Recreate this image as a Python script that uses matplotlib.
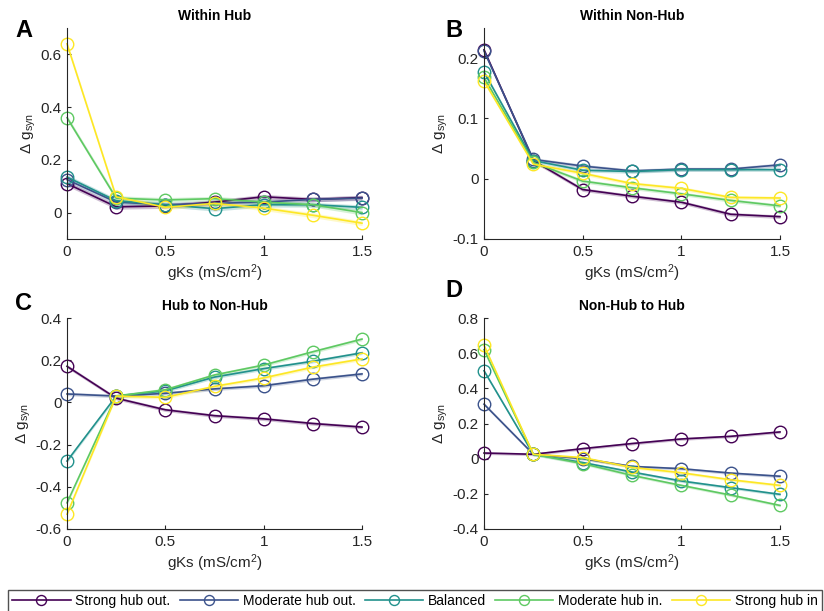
import numpy as np
import matplotlib
matplotlib.use("Agg")
import matplotlib.pyplot as plt

plt.rcParams['font.family'] = ['Liberation Sans', 'DejaVu Sans']
plt.rcParams['mathtext.default'] = 'regular'

gks = [0, 0.25, 0.5, 0.75, 1.0, 1.25, 1.5]
groups = ['Strong hub out.', 'Moderate hub out.', 'Balanced', 'Moderate hub in.', 'Strong hub in']
colors = ['#440154', '#3b528b', '#21918c', '#5ec962', '#fde725']

titles = ['Within Hub', 'Within Non-Hub', 'Hub to Non-Hub', 'Non-Hub to Hub']
letters = ['A', 'B', 'C', 'D']

# values per panel, one row per group
within_hub = [
    [0.110, 0.022, 0.025, 0.040, 0.060, 0.050, 0.057],
    [0.125, 0.040, 0.030, 0.035, 0.040, 0.050, 0.055],
    [0.135, 0.045, 0.030, 0.015, 0.030, 0.030, 0.020],
    [0.360, 0.055, 0.048, 0.053, 0.040, 0.030, 0.000],
    [0.640, 0.060, 0.020, 0.035, 0.017, -0.010, -0.040],
]
within_nonhub = [
    [0.214, 0.030, -0.018, -0.029, -0.039, -0.059, -0.063],
    [0.212, 0.032, 0.021, 0.013, 0.016, 0.016, 0.023],
    [0.177, 0.030, 0.014, 0.012, 0.015, 0.015, 0.015],
    [0.168, 0.027, -0.004, -0.015, -0.025, -0.036, -0.045],
    [0.162, 0.024, 0.009, -0.008, -0.016, -0.031, -0.032],
]
hub_to_nonhub = [
    [0.171, 0.020, -0.035, -0.063, -0.078, -0.100, -0.117],
    [0.040, 0.030, 0.043, 0.064, 0.079, 0.110, 0.135],
    [-0.278, 0.030, 0.055, 0.120, 0.160, 0.195, 0.235],
    [-0.476, 0.030, 0.060, 0.130, 0.177, 0.240, 0.300],
    [-0.530, 0.030, 0.024, 0.076, 0.116, 0.167, 0.206],
]
nonhub_to_hub = [
    [0.032, 0.025, 0.057, 0.086, 0.112, 0.127, 0.152],
    [0.310, 0.025, 0.000, -0.044, -0.057, -0.082, -0.100],
    [0.500, 0.025, -0.022, -0.076, -0.127, -0.165, -0.203],
    [0.620, 0.025, -0.028, -0.095, -0.152, -0.207, -0.266],
    [0.645, 0.025, 0.006, -0.050, -0.080, -0.120, -0.152],
]
panels = [within_hub, within_nonhub, hub_to_nonhub, nonhub_to_hub]
band = [0.009, 0.003, 0.008, 0.008]  # rough half-width of shaded error band

ylims = [(-0.1, 0.7), (-0.1, 0.25), (-0.6, 0.4), (-0.4, 0.8)]
yticks = [[0, 0.2, 0.4, 0.6], [-0.1, 0, 0.1, 0.2],
          [-0.6, -0.4, -0.2, 0, 0.2, 0.4], [-0.4, -0.2, 0, 0.2, 0.4, 0.6, 0.8]]

fig = plt.figure(figsize=(8.24, 6.11), dpi=100)
W, H = 824, 611
boxes = [(67, 28, 362, 239), (484, 28, 780, 239), (67, 318, 362, 529), (484, 318, 780, 529)]
letter_pos = [(15, 37), (445, 37), (15, 310), (445, 297)]
axc = '#262626'

for i, data in enumerate(panels):
    l, t, r, b = boxes[i]
    ax = fig.add_axes([l / W, 1 - b / H, (r - l) / W, (b - t) / H])
    for j, ys in enumerate(data):
        ys = np.array(ys)
        ax.fill_between(gks, ys - band[i], ys + band[i], color=colors[j], alpha=0.25, lw=0)
        ax.plot(gks, ys, color=colors[j], lw=1.2, marker='o', ms=9, mfc='none',
                mew=1.0, clip_on=False, label=groups[j])
    ax.set_xlim(0, 1.5)
    ax.set_ylim(*ylims[i])
    ax.set_xticks([0, 0.5, 1, 1.5])
    ax.set_xticklabels(['0', '0.5', '1', '1.5'])
    ax.set_yticks(yticks[i])
    ax.set_yticklabels(['%g' % v for v in yticks[i]])
    for s in ['top', 'right']:
        ax.spines[s].set_visible(False)
    for s in ['left', 'bottom']:
        ax.spines[s].set_color(axc)
    ax.tick_params(direction='in', length=3, labelsize=11, colors=axc, pad=4)
    ax.set_xlabel('gKs (mS/cm$^2$)', fontsize=11, color=axc, labelpad=3)
    ax.set_ylabel('Δ g$_{syn}$', fontsize=11, color=axc, labelpad=2)
    ax.set_title(titles[i], fontsize=10, fontweight='bold', pad=6)
    fig.text(letter_pos[i][0] / W, 1 - letter_pos[i][1] / H, letters[i],
             fontsize=17, fontweight='bold', ha='left', va='baseline')

handles, labels = ax.get_legend_handles_labels()
leg = fig.legend(handles, labels, loc='upper left', bbox_to_anchor=(8 / W, 1 - 590 / H),
                 ncol=5, fontsize=10, frameon=True, fancybox=False, borderaxespad=0,
                 handlelength=4.2, handletextpad=0.35, columnspacing=0.65,
                 borderpad=0.3, markerscale=0.8)
leg.get_frame().set_edgecolor(axc)
leg.get_frame().set_linewidth(1.0)

fig.savefig('out.png', dpi=100)
